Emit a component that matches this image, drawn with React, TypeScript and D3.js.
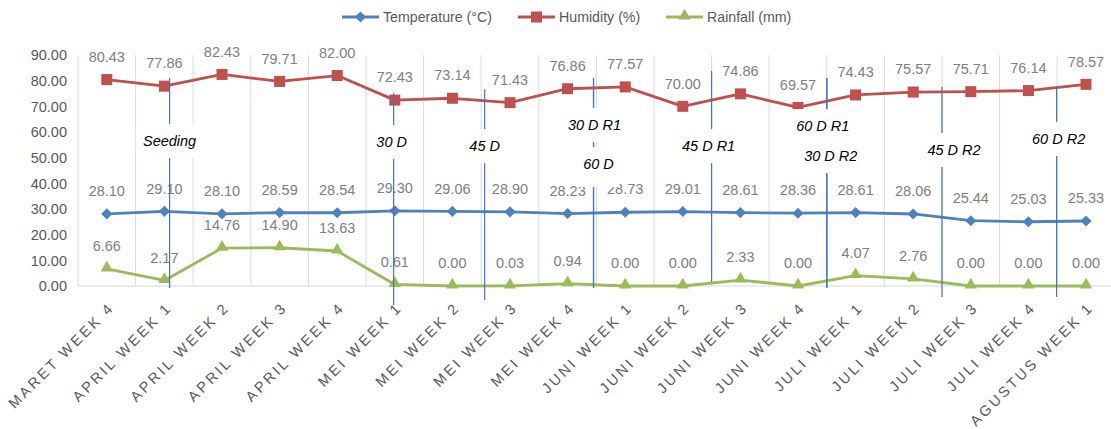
import React from 'react';
import * as d3 from 'd3';

const categories = [
  'MARET WEEK 4', 'APRIL WEEK 1', 'APRIL WEEK 2', 'APRIL WEEK 3', 'APRIL WEEK 4',
  'MEI WEEK 1', 'MEI WEEK 2', 'MEI WEEK 3', 'MEI WEEK 4',
  'JUNI WEEK 1', 'JUNI WEEK 2', 'JUNI WEEK 3', 'JUNI WEEK 4',
  'JULI WEEK 1', 'JULI WEEK 2', 'JULI WEEK 3', 'JULI WEEK 4', 'AGUSTUS WEEK 1',
];

const temperature = [28.10, 29.10, 28.10, 28.59, 28.54, 29.30, 29.06, 28.90, 28.23, 28.73, 29.01, 28.61, 28.36, 28.61, 28.06, 25.44, 25.03, 25.33];
const humidity = [80.43, 77.86, 82.43, 79.71, 82.00, 72.43, 73.14, 71.43, 76.86, 77.57, 70.00, 74.86, 69.57, 74.43, 75.57, 75.71, 76.14, 78.57];
const rainfall = [6.66, 2.17, 14.76, 14.90, 13.63, 0.61, 0.00, 0.03, 0.94, 0.00, 0.00, 2.33, 0.00, 4.07, 2.76, 0.00, 0.00, 0.00];

const yTicks = [0, 10, 20, 30, 40, 50, 60, 70, 80, 90];

// growth stage markers: position in category units, line top/bottom and label height in axis units
const stageLabels = ['Seeding', '30 D', '45 D', '30 D R1', '60 D', '45 D R1', '60 D R1', '30 D R2', '45 D R2', '60 D R2'];
const stageAt = [1.09, 4.98, 6.56, 8.45, 8.45, 10.5, 12.5, 12.5, 14.5, 16.49];
const stageTop = [81, 75.2, 76.7, 81, 81, 83.8, 81, 81, 77.5, 77.9];
const stageBottom = [-0.8, -7.4, -5.5, -0.8, -0.8, 1.6, -0.8, -0.8, -4.3, -4.3];
const stageLabelY = [56.5, 56.1, 54.5, 62.7, 47.5, 54.5, 62.3, 50.6, 53, 57.3];
const stageLabelDx = [0, -2, 0, 1, 5, -3, -4, 4, 12, 2];

const series = [
  { name: 'Temperature (°C)', values: temperature, color: '#4F81BD', symbol: 'diamond' },
  { name: 'Humidity (%)', values: humidity, color: '#C0504D', symbol: 'square' },
  { name: 'Rainfall (mm)', values: rainfall, color: '#9BBB59', symbol: 'triangle' },
];

const W = 1111;
const H = 429;
const font = '"Liberation Sans", Arial, sans-serif';

function Marker({ kind, x, y, color }: { kind: string; x: number; y: number; color: string }) {
  if (kind === 'diamond') {
    const p = d3.symbol().type(d3.symbolSquare).size(62)()!;
    return <path d={p} transform={`translate(${x},${y}) rotate(45)`} fill={color} />;
  }
  if (kind === 'square') {
    const p = d3.symbol().type(d3.symbolSquare).size(121)()!;
    return <path d={p} transform={`translate(${x},${y})`} fill={color} />;
  }
  const p = d3.symbol().type(d3.symbolTriangle).size(66)()!;
  return <path d={p} transform={`translate(${x},${y - 1})`} fill={color} />;
}

export default function App() {
  const x = d3.scaleBand<string>().domain(categories).range([78, 78 + 18 * 57.6]).padding(0);
  const cx = (c: string) => (x(c) ?? 0) + x.bandwidth() / 2;
  const xIdx = d3.scaleLinear().domain([0, 1]).range([cx(categories[0]), cx(categories[1])]);
  const y = d3.scaleLinear().domain([0, 90]).range([286, 55]);

  const line = d3.line<number>().x((_, i) => cx(categories[i])).y(d => y(d));

  const legendX = [342, 518, 666];

  return (
    <svg width={W} height={H} style={{ position: 'absolute', left: 0, top: 0, background: '#fff', fontFamily: font }}>
      <rect width={W} height={H} fill="#fff" />
      {/* vertical gridlines at category boundaries */}
      {d3.range(categories.length + 1).map(i => {
        const gx = 78 + i * x.bandwidth();
        return <line key={i} x1={gx} x2={gx} y1={y(90)} y2={y(0)} stroke="#D9D9D9" strokeWidth={1} />;
      })}
      <line x1={78} x2={W} y1={y(0)} y2={y(0)} stroke="#D9D9D9" strokeWidth={1} />

      {/* y axis */}
      {yTicks.map(t => (
        <text key={t} x={67} y={y(t)} dy="0.36em" textAnchor="end" fontSize={14.5} fill="#595959">
          {t.toFixed(2)}
        </text>
      ))}

      {/* x labels */}
      {categories.map(c => (
        <text key={c} transform={`translate(${cx(c) + 1},${301}) rotate(-45)`} dy="0.72em" textAnchor="end"
          fontSize={14.6} letterSpacing={2.7} fill="#595959">
          {c}
        </text>
      ))}

      {/* series */}
      {series.map(s => (
        <g key={s.name}>
          <path d={line(s.values)!} fill="none" stroke={s.color} strokeWidth={2.8} strokeLinejoin="round" />
          {s.values.map((v, i) => (
            <Marker key={i} kind={s.symbol} x={cx(categories[i])} y={y(v)} color={s.color} />
          ))}
        </g>
      ))}

      {/* data labels */}
      {series.map(s => (
        <g key={s.name + 'l'}>
          {s.values.map((v, i) => (
            <text key={i} x={cx(categories[i])} y={y(v) - 23} dy="0.36em" textAnchor="middle" fontSize={14.5} fill="#808080">
              {v.toFixed(2)}
            </text>
          ))}
        </g>
      ))}

      {/* growth stage annotations */}
      {stageLabels.map((lab, i) => (
        <line key={lab} x1={xIdx(stageAt[i])} x2={xIdx(stageAt[i])} y1={y(stageTop[i])} y2={y(stageBottom[i])}
          stroke="#4472C4" strokeWidth={1.2} />
      ))}
      {stageLabels.map((lab, i) => {
        const lx = xIdx(stageAt[i]) + stageLabelDx[i];
        const w = lab.length * 8.5 + 8;
        const h = lab === '60 D' ? 40 : 34;
        return (
          <g key={lab + 't'}>
            <rect x={lx - w / 2} y={y(stageLabelY[i]) - 17} width={w} height={h} fill="#fff" />
            <text x={lx} y={y(stageLabelY[i])} dy="0.36em" textAnchor="middle" fontSize={14.5} fontStyle="italic" fill="#000">
              {lab}
            </text>
          </g>
        );
      })}

      {/* legend */}
      {series.map((s, i) => (
        <g key={s.name + 'leg'}>
          <line x1={legendX[i]} x2={legendX[i] + 37} y1={17} y2={17} stroke={s.color} strokeWidth={2.8} />
          <Marker kind={s.symbol} x={legendX[i] + 18.5} y={17} color={s.color} />
          <text x={legendX[i] + 41} y={17} dy="0.36em" fontSize={14.2} fill="#595959">{s.name}</text>
        </g>
      ))}
    </svg>
  );
}
